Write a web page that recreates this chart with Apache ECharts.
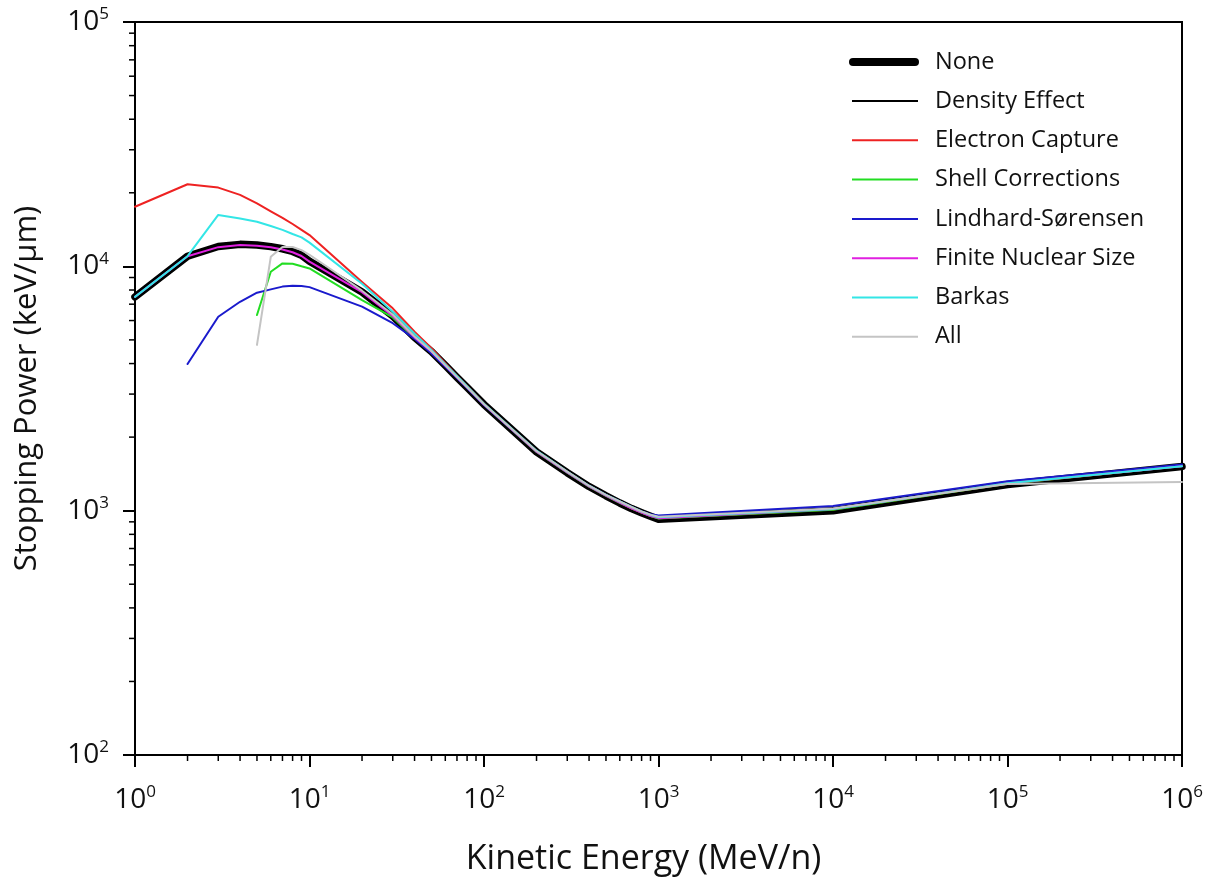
<!DOCTYPE html>
<html>
<head>
<meta charset="utf-8">
<title>Stopping Power</title>
<script src="https://cdn.jsdelivr.net/npm/echarts@6/dist/echarts.min.js"></script>
<style>
  html, body { margin: 0; padding: 0; background: #fff; }
  #chart { width: 1205px; height: 881px; }
</style>
</head>
<body>
<div id="chart"></div>
<script>
// kinetic energy grid (MeV/n)
var energy = [1, 2, 3, 4, 5, 6, 7, 8, 9, 10, 20, 30, 40, 50, 60, 70, 80, 90, 100,
  200, 300, 400, 500, 600, 700, 800, 900, 1000, 10000, 100000, 1000000];

// stopping power (keV/um), null where the curve is not drawn
var noneVals = [7500, 11000, 12050, 12300, 12230, 12040, 11800, 11500, 11100, 10500, 7850, 6260, 5120, 4480, 3930, 3515, 3195, 2935, 2720,
  1740, 1430, 1255, 1150, 1075, 1020, 980, 948, 922, 1000, 1280, 1515];
var densityVals = [7500, 11000, 12050, 12300, 12230, 12040, 11800, 11500, 11100, 10500, 7850, 6260, 5120, 4480, 3930, 3515, 3195, 2935, 2720,
  1740, 1430, 1255, 1150, 1075, 1020, 980, 946, 918, 995, 1265, 1490];
var captureVals = [17540, 21680, 21000, 19600, 18100, 16800, 15800, 14900, 14100, 13430, 8630, 6730, 5400, 4620, 4010, 3570, 3240, 2970, 2740,
  1750, 1435, 1258, 1152, 1078, 1022, 982, 952, 930, 1010, 1290, 1525];
var shellVals = [null, null, null, null, 6320, 9500, 10280, 10250, 10000, 9800, 7280, 6180, 5080, 4450, 3910, 3510, 3190, 2930, 2715,
  1740, 1432, 1255, 1150, 1077, 1022, 982, 950, 928, 1008, 1290, 1525];
var lindhardVals = [null, 3985, 6220, 7160, 7800, 8050, 8260, 8320, 8300, 8220, 6840, 5850, 5050, 4400, 3880, 3490, 3175, 2920, 2705,
  1750, 1440, 1265, 1160, 1090, 1035, 993, 966, 955, 1045, 1320, 1545];
var finiteVals = [7500, 11000, 11980, 12220, 12150, 11960, 11720, 11420, 11020, 10450, 7840, 6260, 5120, 4480, 3930, 3515, 3195, 2935, 2720,
  1742, 1433, 1258, 1152, 1078, 1022, 982, 950, 932, 1015, 1295, 1520];
var barkasVals = [7500, 11000, 16230, 15700, 15230, 14630, 14100, 13560, 13140, 12500, 8480, 6520, 5300, 4550, 3980, 3560, 3230, 2965, 2740,
  1760, 1445, 1265, 1160, 1090, 1035, 992, 960, 940, 1015, 1295, 1520];
var allVals = [null, null, null, null, 4770, 10940, 12000, 12000, 11650, 11150, 7950, 6350, 5160, 4490, 3935, 3520, 3200, 2940, 2725,
  1755, 1445, 1265, 1160, 1090, 1035, 992, 962, 945, 1020, 1285, 1310];

var seriesNames = ['None', 'Density Effect', 'Electron Capture', 'Shell Corrections',
  'Lindhard-Sørensen', 'Finite Nuclear Size', 'Barkas', 'All'];
var seriesVals = [noneVals, densityVals, captureVals, shellVals, lindhardVals, finiteVals, barkasVals, allVals];
var seriesColors = ['#000000', '#000000', '#ee2222', '#22dd22', '#1a1acc', '#e020e0', '#33e6e6', '#c4c4c4'];
var seriesWidths = [7.5, 2, 2, 2, 2, 2, 2, 2];

var font = '"Open Sans", Lato, sans-serif';

function pairs(vals) {
  var out = [];
  for (var i = 0; i < energy.length; i++) {
    if (vals[i] != null) out.push([energy[i], vals[i]]);
  }
  return out;
}

function powLabel(v) {
  var e = Math.round(Math.log(v) / Math.LN10);
  return '{b|10}{s|' + e + '}';
}

var labelRich = {
  b: { fontSize: 28, fontFamily: font, color: '#111', lineHeight: 32 },
  s: { fontSize: 17, fontFamily: font, color: '#111', lineHeight: 17, verticalAlign: 'top' }
};

var legendText = { fontSize: 23.5, fontFamily: font, color: '#111', lineHeight: 26 };

var chart = echarts.init(document.getElementById('chart'), null, { renderer: 'canvas' });

var series = seriesNames.map(function (name, i) {
  return {
    name: name,
    type: 'line',
    data: pairs(seriesVals[i]),
    symbol: 'none',
    smooth: false,
    lineStyle: { color: seriesColors[i], width: seriesWidths[i], cap: 'round', join: 'round' },
    itemStyle: { color: seriesColors[i] }
  };
});

chart.setOption({
  animation: false,
  backgroundColor: '#fff',
  grid: {
    left: 135, right: 23, top: 22, bottom: 126,
    containLabel: false, outerBoundsMode: 'none',
    show: true, borderColor: '#000', borderWidth: 2
  },
  legend: [
    {
      orient: 'vertical',
      left: 849,
      top: 49,
      padding: 0,
      itemWidth: 70,
      itemHeight: 8,
      icon: 'path://M4,0 L66,0 A4,4 0 0 1 66,8 L4,8 A4,4 0 0 1 4,0 Z',
      textStyle: Object.assign({ padding: [0, 0, 0, 11] }, legendText),
      data: seriesNames.slice(0, 1)
    },
    {
      orient: 'vertical',
      left: 852,
      top: 88,
      padding: 0,
      itemWidth: 66,
      itemHeight: 2,
      itemGap: 13.3,
      icon: 'rect',
      textStyle: Object.assign({ padding: [0, 0, 0, 12] }, legendText),
      data: seriesNames.slice(1)
    }
  ],
  xAxis: {
    type: 'log',
    logBase: 10,
    min: 1,
    max: 1000000,
    splitNumber: 6,
    name: 'Kinetic Energy (MeV/n)',
    nameLocation: 'middle',
    nameGap: 87,
    nameTextStyle: { fontSize: 34, fontFamily: font, color: '#111', padding: [0, 30, 0, 0] },
    axisLine: { lineStyle: { color: '#000', width: 2 } },
    axisTick: { inside: false, length: 12, lineStyle: { color: '#000', width: 2 } },
    axisLabel: { margin: 29, formatter: powLabel, rich: labelRich },
    splitLine: { show: false }
  },
  yAxis: {
    type: 'log',
    logBase: 10,
    min: 100,
    max: 100000,
    splitNumber: 3,
    name: 'Stopping Power (keV/µm)',
    nameLocation: 'middle',
    nameGap: 92,
    nameTextStyle: { fontSize: 31, fontFamily: font, color: '#111' },
    axisLine: { lineStyle: { color: '#000', width: 2 } },
    axisTick: { inside: false, length: 12, lineStyle: { color: '#000', width: 2 } },
    axisLabel: { margin: 26, formatter: powLabel, rich: labelRich },
    splitLine: { show: false }
  },
  series: series
});

// minor ticks at 2..9 of each decade
var minor = [];
var yBottom = chart.convertToPixel({ yAxisIndex: 0 }, 100);
var xLeft = chart.convertToPixel({ xAxisIndex: 0 }, 1);
for (var d = 0; d < 6; d++) {
  for (var m = 2; m <= 9; m++) {
    var px = chart.convertToPixel({ xAxisIndex: 0 }, m * Math.pow(10, d));
    minor.push({ type: 'line', shape: { x1: px, y1: yBottom, x2: px, y2: yBottom + 6 },
      style: { stroke: '#000', lineWidth: 1.5 }, silent: true });
  }
}
for (var d2 = 2; d2 < 5; d2++) {
  for (var m2 = 2; m2 <= 9; m2++) {
    var py = chart.convertToPixel({ yAxisIndex: 0 }, m2 * Math.pow(10, d2));
    minor.push({ type: 'line', shape: { x1: xLeft - 6, y1: py, x2: xLeft, y2: py },
      style: { stroke: '#000', lineWidth: 1.5 }, silent: true });
  }
}
chart.setOption({ graphic: minor });
</script>
</body>
</html>
